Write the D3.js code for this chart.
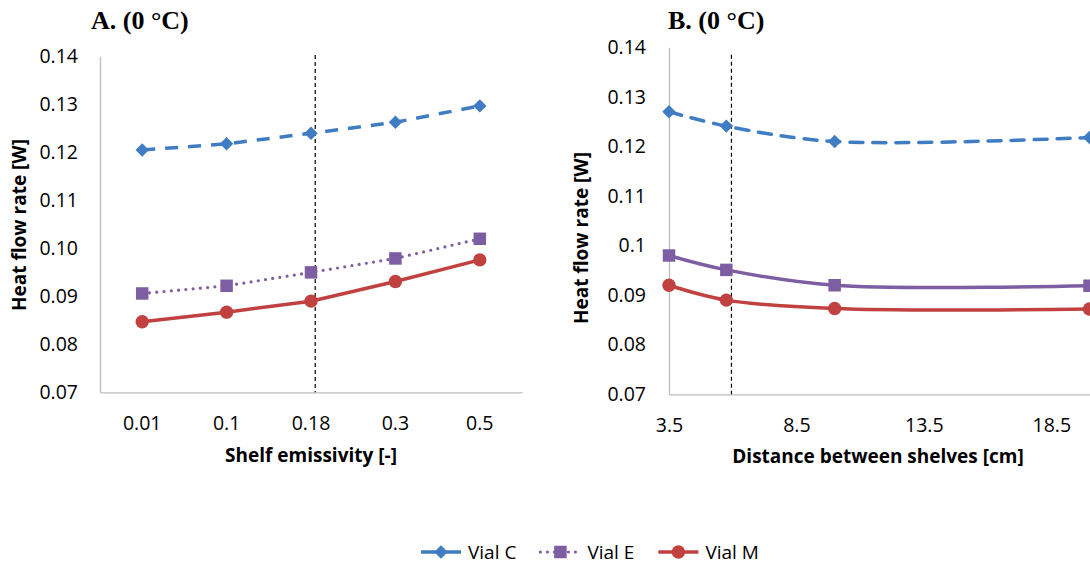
<!DOCTYPE html>
<html lang="en">
<head>
  <meta charset="UTF-8" />
  <title>Heat flow rate vs shelf emissivity and shelf distance</title>
  <style>
    body {
      margin: 0;
      background: white;
    }

    svg {
      display: block;
      font-family: "Open Sans", sans-serif;
    }

    .tick text {
      font-size: 19.5px;
      fill: #000;
      font-family: "Open Sans", sans-serif;
    }

    .axis-title {
      font-size: 19px;
      font-weight: bold;
      fill: #000;
    }

    .panel-title {
      font-family: "Liberation Serif", "Times New Roman", serif;
      font-size: 26px;
      font-weight: bold;
      fill: #000;
    }

    .legend text {
      font-size: 19px;
      fill: #000;
    }
  </style>
</head>
<body>
  <svg width="1090" height="565"></svg>

  <script src="https://d3js.org/d3.v7.min.js"></script>
  <script>
    // panel A: shelf emissivity (categories)
    const emissivity = ["0.01", "0.1", "0.18", "0.3", "0.5"];
    const vialC_A = [0.1205, 0.1218, 0.1240, 0.1263, 0.1297];
    const vialE_A = [0.0906, 0.0922, 0.0950, 0.0979, 0.1020];
    const vialM_A = [0.0847, 0.0867, 0.0890, 0.0931, 0.0976];

    // panel B: distance between shelves [cm]
    const distance = [3.5, 5.75, 10, 20];
    const vialC_B = [0.1270, 0.1241, 0.1210, 0.1218];
    const vialE_B = [0.0980, 0.0951, 0.0920, 0.0919];
    const vialM_B = [0.0920, 0.0890, 0.0873, 0.0872];

    const yTicks = [0.07, 0.08, 0.09, 0.10, 0.11, 0.12, 0.13, 0.14];
    const distanceTicks = [3.5, 8.5, 13.5, 18.5];
    const refEmissivity = "0.18";
    const refDistance = 5.95;

    const seriesNames = ["Vial C", "Vial E", "Vial M"];

    const blue = "#3f7cc2", purple = "#7d5ea3", red = "#c0413f";

    const svg = d3.select("svg");

    const styles = {
      "Vial C": { color: blue, dash: "13,10", cap: "butt", marker: "diamond" },
      "Vial E": { color: purple, dash: "0,7.3", cap: "round", marker: "square" },
      "Vial M": { color: red, dash: null, cap: "round", marker: "circle" }
    };

    function markerPath(kind) {
      if (kind === "diamond") return d3.symbol(d3.symbolSquare, 90)();
      if (kind === "square") return d3.symbol(d3.symbolSquare, 156)();
      return d3.symbol(d3.symbolCircle, 140)();
    }

    function drawMarkers(g, pts, name) {
      const st = styles[name];
      g.selectAll(null)
        .data(pts)
        .join("path")
          .attr("d", markerPath(st.marker))
          .attr("fill", st.color)
          .attr("transform", d => `translate(${d[0]},${d[1]})` + (st.marker === "diamond" ? " rotate(45)" : ""));
    }

    function styleAxis(g) {
      g.select(".domain").attr("stroke", "#bdbdbd").attr("stroke-width", 1.3);
      g.selectAll(".tick line").remove();
    }

    // ---------- Panel A ----------
    const xA = d3.scaleBand().domain(emissivity).range([100, 522]);
    const yA = d3.scaleLinear().domain([0.07, 0.14]).range([392.3, 56.5]);
    const cx = c => xA(c) + xA.bandwidth() / 2;

    svg.append("g")
      .attr("transform", `translate(${xA.range()[0]},0)`)
      .call(d3.axisLeft(yA).tickValues(yTicks).tickFormat(d3.format(".2f")).tickSize(0).tickPadding(22))
      .call(styleAxis)
      .call(g => g.selectAll("text").attr("font-size", null));

    svg.append("g")
      .attr("transform", `translate(0,${yA(0.07)})`)
      .call(d3.axisBottom(xA).tickSize(0))
      .call(styleAxis)
      .call(g => g.selectAll("text").attr("dy", null).attr("y", 38));

    svg.append("line")
      .attr("x1", cx(refEmissivity) + xA.bandwidth() * 0.05)
      .attr("x2", cx(refEmissivity) + xA.bandwidth() * 0.05)
      .attr("y1", yA(0.1403))
      .attr("y2", yA(0.07))
      .attr("stroke", "#000")
      .attr("stroke-width", 1.2)
      .attr("stroke-dasharray", "4,3");

    const seriesA = [["Vial C", vialC_A], ["Vial E", vialE_A], ["Vial M", vialM_A]];
    const lineA = d3.line();
    seriesA.forEach(([name, vals]) => {
      const st = styles[name];
      const pts = vals.map((v, i) => [cx(emissivity[i]), yA(v)]);
      svg.append("path")
        .attr("d", lineA(pts))
        .attr("fill", "none")
        .attr("stroke", st.color)
        .attr("stroke-width", name === "Vial E" ? 3.2 : 3.5)
        .attr("stroke-linecap", st.cap)
        .attr("stroke-dasharray", st.dash);
      drawMarkers(svg.append("g"), pts, name);
    });

    svg.append("text")
      .attr("class", "axis-title")
      .attr("text-anchor", "middle")
      .attr("x", (xA.range()[0] + xA.range()[1]) / 2)
      .attr("y", 462)
      .text("Shelf emissivity [-]");

    svg.append("text")
      .attr("class", "axis-title")
      .attr("text-anchor", "middle")
      .attr("transform", "translate(26,225) rotate(-90)")
      .text("Heat flow rate [W]");

    svg.append("text")
      .attr("class", "panel-title")
      .attr("x", 91)
      .attr("y", 29)
      .text("A. (0 °C)");

    // ---------- Panel B ----------
    const xB = d3.scaleLinear().domain([3.5, 20]).range([669, 1089.5]);
    const yB = d3.scaleLinear().domain([0.07, 0.14]).range([394.3, 47.3]);

    svg.append("g")
      .attr("transform", `translate(${xB(3.5)},0)`)
      .call(d3.axisLeft(yB).tickValues(yTicks).tickFormat(d => String(+d.toFixed(2))).tickSize(0).tickPadding(23))
      .call(styleAxis)
      .call(g => g.selectAll("text").attr("font-size", null));

    svg.append("g")
      .attr("transform", `translate(0,${yB(0.07)})`)
      .call(d3.axisBottom(xB).tickValues(distanceTicks).tickFormat(d => String(d)).tickSize(0))
      .call(styleAxis)
      .call(g => g.selectAll("text").attr("dy", null).attr("y", 38));

    svg.append("line")
      .attr("x1", xB(refDistance))
      .attr("x2", xB(refDistance))
      .attr("y1", yB(0.1385))
      .attr("y2", yB(0.07))
      .attr("stroke", "#000")
      .attr("stroke-width", 1.2)
      .attr("stroke-dasharray", "4,3");

    const seriesB = [["Vial C", vialC_B], ["Vial E", vialE_B], ["Vial M", vialM_B]];
    const lineB = d3.line().curve(d3.curveCatmullRom.alpha(0.5));
    seriesB.forEach(([name, vals]) => {
      const st = styles[name];
      const pts = vals.map((v, i) => [xB(distance[i]), yB(v)]);
      svg.append("path")
        .attr("d", lineB(pts))
        .attr("fill", "none")
        .attr("stroke", st.color)
        .attr("stroke-width", 3.5)
        .attr("stroke-linecap", "round")
        .attr("stroke-dasharray", name === "Vial C" ? st.dash : null);
      drawMarkers(svg.append("g"), pts, name);
    });

    svg.append("text")
      .attr("class", "axis-title")
      .attr("text-anchor", "middle")
      .attr("x", 878)
      .attr("y", 463)
      .text("Distance between shelves [cm]");

    svg.append("text")
      .attr("class", "axis-title")
      .attr("text-anchor", "middle")
      .attr("transform", "translate(588,238) rotate(-90)")
      .text("Heat flow rate [W]");

    svg.append("text")
      .attr("class", "panel-title")
      .attr("x", 668)
      .attr("y", 29)
      .text("B. (0 °C)");

    // ---------- Legend ----------
    const legend = svg.append("g").attr("class", "legend").attr("transform", "translate(421,552)");
    let lx = 0;
    seriesNames.forEach(name => {
      const st = styles[name];
      const item = legend.append("g").attr("transform", `translate(${lx},0)`);
      item.append("line")
        .attr("x1", 0).attr("x2", 40)
        .attr("stroke", st.color)
        .attr("stroke-width", name === "Vial E" ? 3.2 : 3.5)
        .attr("stroke-linecap", name === "Vial E" ? "round" : "butt")
        .attr("stroke-dasharray", name === "Vial E" ? "0,7" : null);
      drawMarkers(item.append("g"), [[20, 0]], name);
      const t = item.append("text")
        .attr("x", 47)
        .attr("dy", "0.35em")
        .text(name);
      lx += 47 + t.node().getComputedTextLength() + 24;
    });
  </script>
</body>
</html>
